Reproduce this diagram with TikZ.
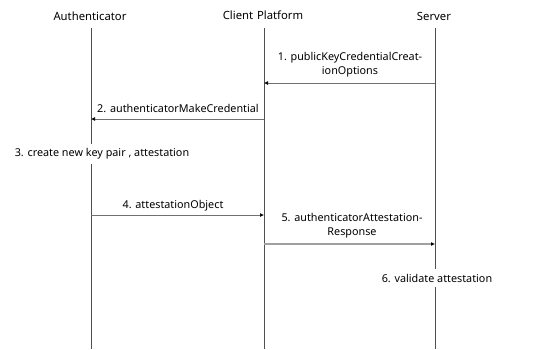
\documentclass[tikz,border=0pt]{standalone}
\usepackage{fontspec}
\setmainfont{Noto Sans}
\usetikzlibrary{arrows.meta}
\definecolor{lifec}{HTML}{505050}
\definecolor{msgc}{HTML}{707070}
\definecolor{msgl}{HTML}{A0A0A0}
\tikzset{
  title/.style={font=\fontsize{11.3}{13}\selectfont, inner sep=0pt},
  lbl/.style={font=\fontsize{10.8}{14}\selectfont, inner sep=0pt, align=center},
  note/.style={font=\fontsize{10.8}{13}\selectfont, fill=white, inner xsep=1pt, inner ysep=5pt},
  life/.style={draw=lifec, line width=0.8pt},
  msg/.style={draw=msgc, line width=0.7pt, -{Latex[length=4pt,width=4pt,black]}},
  msgthick/.style={draw=msgl, line width=1.6pt, -{Latex[length=4pt,width=4pt,black]}},
}
\begin{document}
\begin{tikzpicture}[x=1pt,y=-1pt]
\useasboundingbox (0,0) rectangle (535,349);
% titles
\node[title] (tA) at (90,16) {Authenticator};
\node[title] (tC) at (263,15) {Client\,\,Platform};
\node[title] (tS) at (434,16) {Server};
% lifeline coordinates
\coordinate (a0) at (91,28); \coordinate (a1) at (91,349);
\coordinate (c0) at (264,28); \coordinate (c1) at (264,349);
\coordinate (s0) at (435,28); \coordinate (s1) at (435,349);
\draw[life] (a0) -- (a1);
\draw[life] (c0) -- (c1);
\draw[life] (s0) -- (s1);
% message endpoints
\coordinate (m1s) at (435,83); \coordinate (m1e) at (264,83);
\coordinate (m2s) at (264,119); \coordinate (m2e) at (91,119);
\coordinate (m4s) at (91,215); \coordinate (m4e) at (264,215);
\coordinate (m5s) at (264,244); \coordinate (m5e) at (435,244);
\draw[msg] (m1s) -- (m1e);
\draw[msg] (m2s) -- (m2e);
\draw[msg] (m4s) -- (m4e);
\draw[msgthick] (m5s) -- (m5e);
% labels
\node[lbl] (l1) at (350,65) {1. publicKeyCredentialCreat-\\ionOptions};
\node[lbl] (l2) at (178,108) {2. authenticatorMakeCredential};
\node[note] (l3) at (102,154) {3. create new key pair , attestation};
\node[lbl] (l4) at (173,206) {4. attestationObject};
\node[lbl] (l5) at (352,226) {5. authenticatorAttestation-\\Response};
\node[note] (l6) at (437,278) {6. validate attestation};
\end{tikzpicture}
\end{document}
